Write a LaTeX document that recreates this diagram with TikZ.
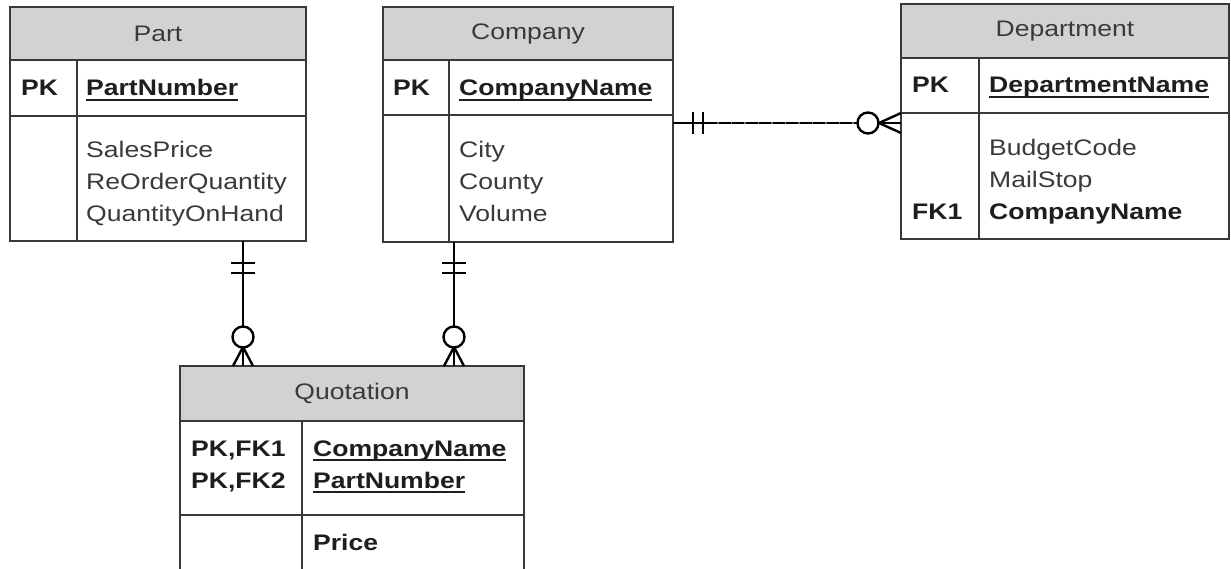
\documentclass[tikz,border=0pt]{standalone}
\usepackage{fontspec}
\setmainfont[FakeStretch=1.18]{Liberation Sans}
\usetikzlibrary{calc}
\definecolor{hdrfill}{HTML}{D2D2D2}
\definecolor{txtc}{HTML}{3A3A3A}
\definecolor{boldc}{HTML}{1E1E1E}
\definecolor{bordc}{HTML}{383838}
\definecolor{gapc}{HTML}{707070}
\newcommand\myul[1]{\setbox0\hbox{#1}\rlap{\rule[-5pt]{\wd0}{1.8pt}}\box0}
\tikzset{
  tbox/.style={draw=bordc, line width=1.7pt, anchor=north west, inner sep=0pt, outer sep=0pt},
  hdrbox/.style={tbox, fill=hdrfill, text=txtc, font=\fontsize{22.5}{26}\selectfont},
  divider/.style={draw=bordc, line width=1.7pt},
  keytxt/.style={anchor=base west, inner sep=0pt, text=boldc, font=\fontsize{22.5}{26}\selectfont\bfseries},
  attrtxt/.style={anchor=base west, inner sep=0pt, text=txtc, font=\fontsize{22.5}{26}\selectfont},
  rel/.style={draw=black, line width=2.4pt},
  relgap/.style={draw=gapc, line width=2.4pt},
  reldash/.style={draw=black, line width=2.4pt, dash pattern=on 12pt off 1.5pt},
}
\begin{document}
\begin{tikzpicture}[x=1pt,y=-1pt]
\useasboundingbox (0,0) rectangle (1231,569);
\fill[white] (0,0) rectangle (1231,569);
\clip (0,0) rectangle (1231,569);

% ---------- Part ----------
\node[hdrbox, minimum width=296pt, minimum height=53pt] (parth) at (10,7) {Part};
\node[tbox, minimum width=296pt, minimum height=56pt] (partk) at (10,60) {};
\node[tbox, minimum width=296pt, minimum height=125pt] (parta) at (10,116) {};
\draw[divider] (77,60) -- (77,241);
\node[keytxt] (partpk) at (21,96) {PK};
\node[keytxt] (partpkn) at (86,96) {\myul{PartNumber}};
\node[attrtxt] (parta1) at (86,158) {SalesPrice};
\node[attrtxt] (parta2) at (86,190) {ReOrderQuantity};
\node[attrtxt] (parta3) at (86,222) {QuantityOnHand};

% ---------- Company ----------
\node[hdrbox, minimum width=290pt, minimum height=53pt] (comph) at (383,7) {Company};
\node[tbox, minimum width=290pt, minimum height=55pt] (compk) at (383,60) {};
\node[tbox, minimum width=290pt, minimum height=127pt] (compa) at (383,115) {};
\draw[divider] (449,60) -- (449,242);
\node[keytxt] (comppk) at (393,96) {PK};
\node[keytxt] (comppkn) at (459,96) {\myul{CompanyName}};
\node[attrtxt] (compa1) at (459,158) {City};
\node[attrtxt] (compa2) at (459,190) {County};
\node[attrtxt] (compa3) at (459,222) {Volume};

% ---------- Department ----------
\node[hdrbox, minimum width=328pt, minimum height=54pt] (deph) at (901,4) {Department};
\node[tbox, minimum width=328pt, minimum height=55pt] (depk) at (901,58) {};
\node[tbox, minimum width=328pt, minimum height=126pt] (depa) at (901,113) {};
\draw[divider] (979,58) -- (979,239);
\node[keytxt] (deppk) at (912,93) {PK};
\node[keytxt] (deppkn) at (989,93) {\myul{DepartmentName}};
\node[attrtxt] (depa1) at (989,156) {BudgetCode};
\node[attrtxt] (depa2) at (989,188) {MailStop};
\node[keytxt] (depfk) at (912,220) {FK1};
\node[keytxt] (depa3) at (989,220) {CompanyName};

% ---------- Quotation ----------
\node[hdrbox, minimum width=344pt, minimum height=55pt] (quoh) at (180,366) {Quotation};
\node[tbox, minimum width=344pt, minimum height=94pt] (quok) at (180,421) {};
\node[tbox, minimum width=344pt, minimum height=70pt] (quoa) at (180,515) {};
\draw[divider] (302,421) -- (302,585);
\node[keytxt] (quopk1) at (191,456) {PK,FK1};
\node[keytxt] (quopk2) at (191,488) {PK,FK2};
\node[keytxt] (quopkn1) at (313,456) {\myul{CompanyName}};
\node[keytxt] (quopkn2) at (313,488) {\myul{PartNumber}};
\node[keytxt] (quoa1) at (313,550) {Price};

% ---------- Relationships ----------
% Part -> Quotation
\coordinate (pt) at (243,241);
\coordinate (pb) at (243,366);
\draw[rel] (pt) -- ($(pb)+(0,-40)$);
\draw[rel] ($(pt)+(-12,22)$) -- ($(pt)+(12,22)$);
\draw[rel] ($(pt)+(-12,32)$) -- ($(pt)+(12,32)$);
\draw[rel] ($(pb)+(0,-29)$) circle[radius=10.5pt];
\draw[rel] ($(pb)+(0,-19)$) -- ($(pb)+(-10,0)$);
\draw[rel] ($(pb)+(0,-18.5)$) -- (pb);
\draw[rel] ($(pb)+(0,-19)$) -- ($(pb)+(10,0)$);

% Company -> Quotation
\coordinate (ct) at (454,242);
\coordinate (cb) at (454,366);
\draw[rel] (ct) -- ($(cb)+(0,-40)$);
\draw[rel] ($(ct)+(-12,21)$) -- ($(ct)+(12,21)$);
\draw[rel] ($(ct)+(-12,31)$) -- ($(ct)+(12,31)$);
\draw[rel] ($(cb)+(0,-29)$) circle[radius=10.5pt];
\draw[rel] ($(cb)+(0,-19)$) -- ($(cb)+(-10,0)$);
\draw[rel] ($(cb)+(0,-18.5)$) -- (cb);
\draw[rel] ($(cb)+(0,-19)$) -- ($(cb)+(10,0)$);

% Company -> Department (dashed, with nearly closed gaps)
\coordinate (cl) at (673,123);
\coordinate (dr) at (901,123);
\draw[relgap] ($(cl)+(32,0)$) -- ($(dr)+(-43.5,0)$);
\draw[rel] (cl) -- ($(cl)+(32,0)$);
\draw[reldash] ($(cl)+(32,0)$) -- ($(dr)+(-43.5,0)$);
\draw[rel] ($(cl)+(20,-11)$) -- ($(cl)+(20,11)$);
\draw[rel] ($(cl)+(30,-11)$) -- ($(cl)+(30,11)$);
\draw[rel] ($(dr)+(-33,0)$) circle[radius=10.5pt];
\draw[rel] ($(dr)+(-22,0)$) -- ($(dr)+(0,-10)$);
\draw[rel] ($(dr)+(-22.5,0)$) -- (dr);
\draw[rel] ($(dr)+(-22,0)$) -- ($(dr)+(0,10)$);
\end{tikzpicture}
\end{document}
